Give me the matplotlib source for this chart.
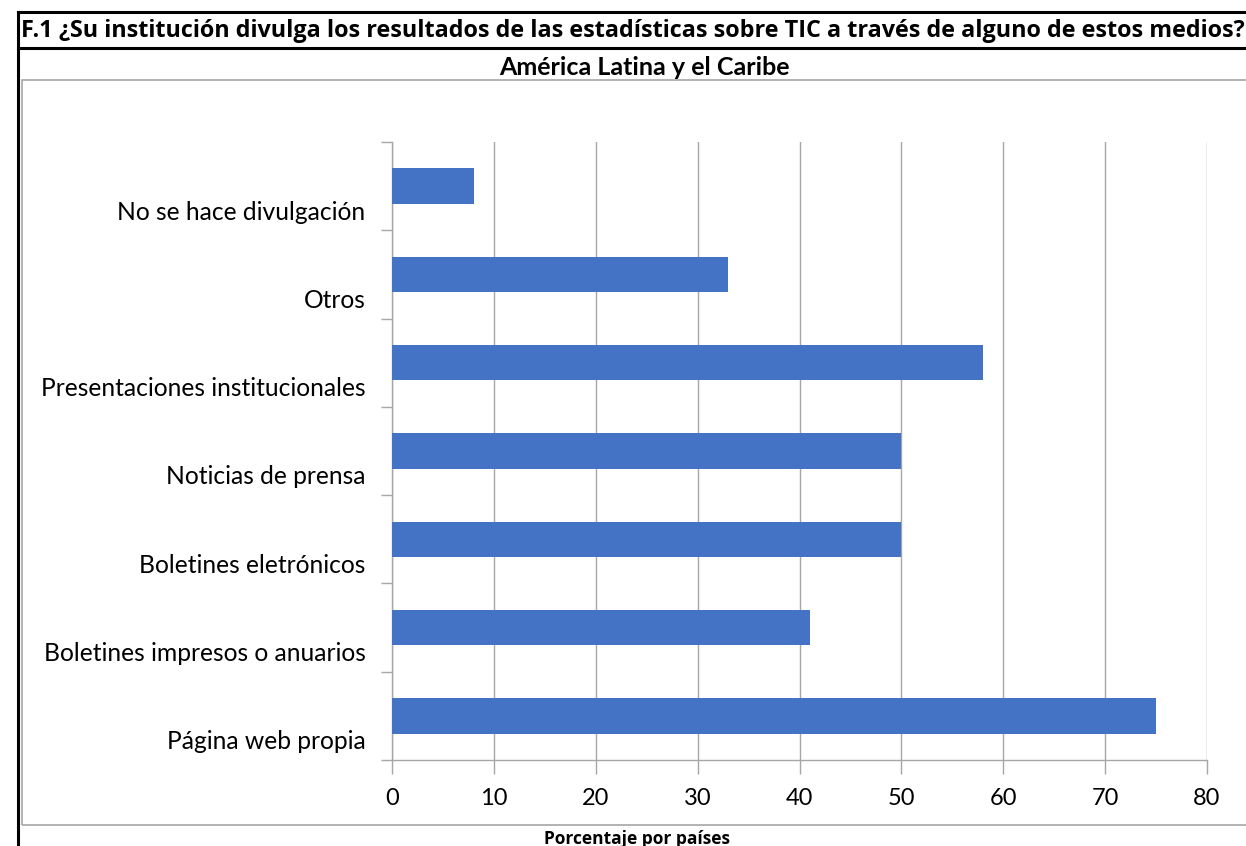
import matplotlib.pyplot as plt
from matplotlib.patches import Rectangle
from matplotlib.lines import Line2D
import matplotlib.transforms as mtransforms

categorias = [
    "Página web propia",
    "Boletines impresos o anuarios",
    "Boletines eletrónicos",
    "Noticias de prensa",
    "Presentaciones institucionales",
    "Otros",
    "No se hace divulgación",
]
valores = [75, 41, 50, 50, 58, 33, 8]
ticks_x = [0, 10, 20, 30, 40, 50, 60, 70, 80]

titulo = "F.1 ¿Su institución divulga los resultados de las estadísticas sobre TIC a través de alguno de estos medios?"
subtitulo = "América Latina y el Caribe"
etiqueta_x = "Porcentaje por países"

W, H = 1246, 846
fig = plt.figure(figsize=(W / 100, H / 100), dpi=100)
fig.patch.set_facecolor("white")

narrow = ["Liberation Sans Narrow", "Open Sans", "DejaVu Sans"]
cuerpo = ["Lato", "Open Sans", "DejaVu Sans"]


def px(x, y):
    return x / W, 1 - y / H


# black title box lines
for (x0, y0), (x1, y1) in [((18, 12), (1246, 12)), ((18, 48), (1246, 48)), ((18, 12), (18, 846))]:
    a, b = px(x0, y0)
    c, d = px(x1, y1)
    fig.add_artist(Line2D([a, c], [b, d], color="black", lw=2.2, transform=fig.transFigure))

# gray chart frame
fx, fy = px(22, 825)
fig.add_artist(Rectangle((fx, fy), (1260 - 22) / W, (825 - 80) / H, fill=False,
                         edgecolor="#a6a6a6", lw=1.2, transform=fig.transFigure))

fig.text(*px(21, 31), titulo, fontsize=16.8, fontweight="bold", family=narrow,
         ha="left", va="center")
fig.text(*px(644, 67), subtitulo, fontsize=18, fontweight="bold", family=cuerpo,
         ha="center", va="center")
fig.text(*px(637, 839), etiqueta_x, fontsize=12.5, fontweight="bold", family=narrow,
         ha="center", va="center")

left, right, top, bottom = 392, 1207, 142, 760
ax = fig.add_axes([left / W, 1 - bottom / H, (right - left) / W, (bottom - top) / H])

pos = list(range(len(categorias)))
ax.barh(pos, valores, height=0.4, color="#4472c4", zorder=3)
ax.set_xlim(0, 80)
ax.set_ylim(-0.5, len(categorias) - 0.5)

ax.set_xticks(ticks_x)
ax.set_xticklabels([str(t) for t in ticks_x], fontsize=17, family=cuerpo)
ax.tick_params(axis="x", length=10, width=1, color="#a6a6a6", pad=10)
ax.grid(axis="x", color="#a6a6a6", lw=1, zorder=0)

ax.set_yticks(pos)
ax.set_yticklabels(categorias, fontsize=17.7, family=cuerpo)
ax.tick_params(axis="y", which="major", length=0, pad=19)
ax.set_yticks([p - 0.5 for p in pos] + [len(categorias) - 0.5], minor=True)
ax.tick_params(axis="y", which="minor", length=8, width=1, color="#a6a6a6")
offset = mtransforms.ScaledTranslation(0, -24 / 100, fig.dpi_scale_trans)
for lab in ax.get_yticklabels():
    lab.set_transform(lab.get_transform() + offset)

for s in ["top", "right"]:
    ax.spines[s].set_visible(False)
for s in ["left", "bottom"]:
    ax.spines[s].set_color("#a6a6a6")
    ax.spines[s].set_linewidth(1)

fig.savefig("out.png", dpi=100)
